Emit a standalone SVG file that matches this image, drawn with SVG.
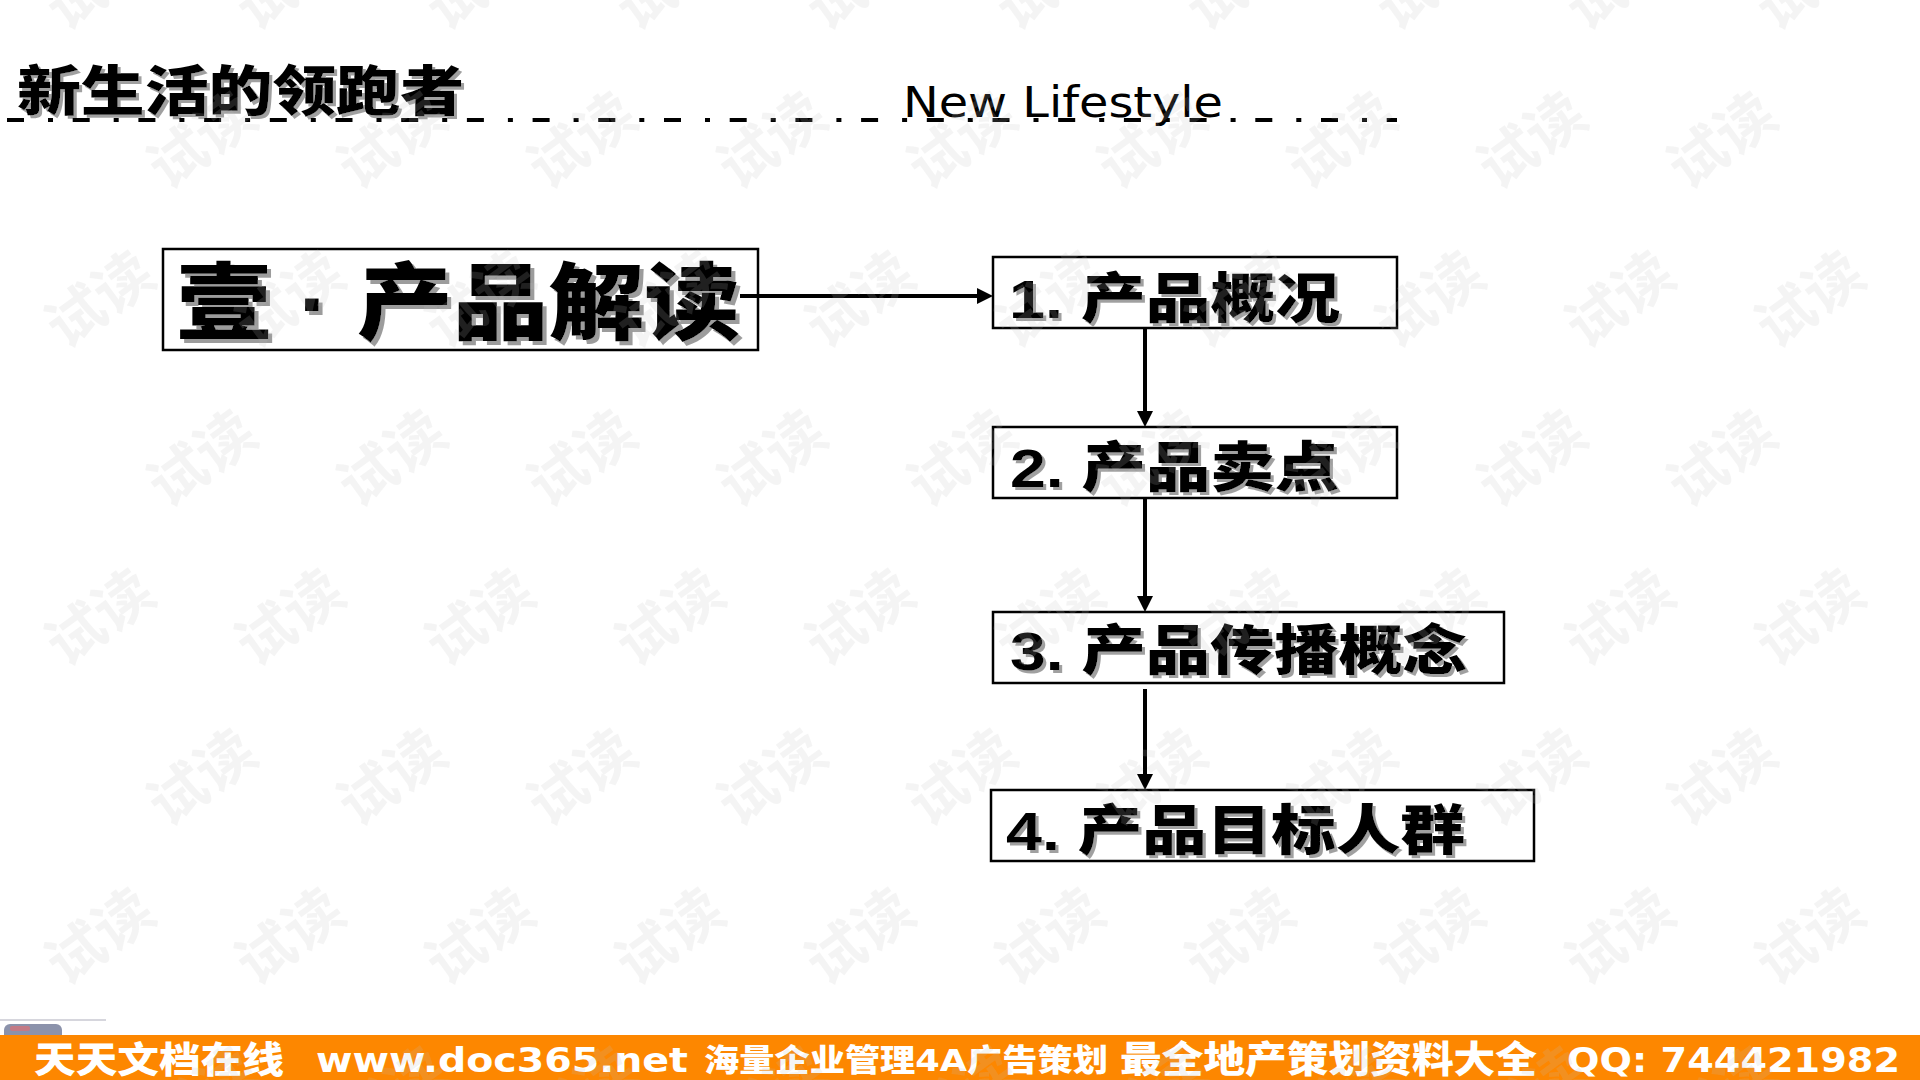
<svg xmlns="http://www.w3.org/2000/svg" xmlns:xlink="http://www.w3.org/1999/xlink" width="1920" height="1080" viewBox="0 0 1920 1080">
  <style>
    .cj { font-family: "Liberation Sans", "Noto Sans CJK SC", sans-serif; font-weight: 900; fill: #000; }
    .box { fill: #fff; stroke: #000; stroke-width: 2.5; }
    .conn { stroke: #000; stroke-width: 4; fill: none; }
    .foot { font-family: "DejaVu Sans", "Noto Sans CJK SC", sans-serif; font-weight: 900; fill: #fff; }
    .wm { font-family: "Noto Sans CJK SC", sans-serif; font-weight: 700; font-size: 58px; fill: #c0c0c0; fill-opacity: 0.17; }
  </style>
  <defs>
    <filter id="sh" x="-5%" y="-10%" width="115%" height="130%">
      <feDropShadow dx="4" dy="4" stdDeviation="0" flood-color="#9c9c9c" flood-opacity="1"/>
    </filter>
    <filter id="sh2" x="-5%" y="-10%" width="115%" height="130%">
      <feDropShadow dx="3" dy="3" stdDeviation="0" flood-color="#a0a0a0" flood-opacity="1"/>
    </filter>
    <marker id="ah" markerUnits="userSpaceOnUse" viewBox="0 0 16 16" markerWidth="16" markerHeight="16" refX="6" refY="8" orient="auto">
      <path d="M0,0 L16,8 L0,16 z" fill="#000"/>
    </marker>
    <text id="wm" class="wm" text-anchor="middle" transform="rotate(-36)" y="20">试读</text>
  </defs>

  <rect x="0" y="0" width="1920" height="1080" fill="#fff"/>

  <!-- header -->
  <g id="header">
    <text class="cj" x="17" y="111" font-size="54" textLength="447" lengthAdjust="spacingAndGlyphs" filter="url(#sh2)">新生活的领跑者</text>
    <line x1="7" y1="120" x2="1397" y2="120" stroke="#000" stroke-width="4" stroke-dasharray="17 24 5 19.7"/>
    <text x="903" y="117" font-family="DejaVu Sans, sans-serif" font-size="42" textLength="320" lengthAdjust="spacingAndGlyphs" fill="#000">New Lifestyle</text>
  </g>

  <!-- main node -->
  <g id="node-main">
    <rect class="box" x="163" y="249" width="595" height="101" stroke-width="2.5"/>
    <text class="cj" x="176" y="333" font-size="84" textLength="564" lengthAdjust="spacingAndGlyphs" filter="url(#sh)">壹 · 产品解读</text>
  </g>

  <g id="node-1">
    <rect class="box" x="993" y="257" width="404" height="71"/>
    <text class="cj" x="1009" y="318" font-size="54" textLength="331" lengthAdjust="spacingAndGlyphs" filter="url(#sh2)">1. 产品概况</text>
  </g>

  <g id="node-2">
    <rect class="box" x="993" y="427" width="404" height="71"/>
    <text class="cj" x="1010" y="487" font-size="54" textLength="329" lengthAdjust="spacingAndGlyphs" filter="url(#sh2)">2. 产品卖点</text>
  </g>

  <g id="node-3">
    <rect class="box" x="993" y="612" width="511" height="71"/>
    <text class="cj" x="1010" y="670" font-size="54" textLength="457" lengthAdjust="spacingAndGlyphs" filter="url(#sh2)">3. 产品传播概念</text>
  </g>

  <g id="node-4">
    <rect class="box" x="991" y="790" width="543" height="71"/>
    <text class="cj" x="1006" y="850" font-size="54" textLength="459" lengthAdjust="spacingAndGlyphs" filter="url(#sh2)">4. 产品目标人群</text>
  </g>

  <!-- connectors -->
  <g id="connectors">
    <line class="conn" x1="740" y1="296" x2="983" y2="296" marker-end="url(#ah)"/>
    <line class="conn" x1="1145" y1="328" x2="1145" y2="417" marker-end="url(#ah)"/>
    <line class="conn" x1="1145" y1="498" x2="1145" y2="602" marker-end="url(#ah)"/>
    <line class="conn" x1="1145" y1="689" x2="1145" y2="780" marker-end="url(#ah)"/>
  </g>

  <!-- footer -->
  <g id="footer">
    <line x1="0" y1="1020" x2="106" y2="1020" stroke="#c9c9d2" stroke-width="1.5"/>
    <rect x="4" y="1024" width="58" height="18" rx="6" fill="#8b92ab"/>
    <rect x="10" y="1026" width="20" height="5" rx="2" fill="#c47a86"/>
    <rect x="0" y="1035" width="1920" height="45" fill="#fd8700"/>
    <text class="foot" x="34" y="1073" font-size="36" textLength="250" lengthAdjust="spacingAndGlyphs">天天文档在线</text>
    <text class="foot" x="316" y="1072" font-size="34" textLength="372" lengthAdjust="spacingAndGlyphs">www.doc365.net</text>
    <text class="foot" x="704" y="1071" font-size="31" textLength="404" lengthAdjust="spacingAndGlyphs">海量企业管理4A广告策划</text>
    <text class="foot" x="1120" y="1073" font-size="37" textLength="417" lengthAdjust="spacingAndGlyphs">最全地产策划资料大全</text>
    <text class="foot" x="1567" y="1072" font-size="34" textLength="333" lengthAdjust="spacingAndGlyphs">QQ: 744421982</text>
  </g>

  <!-- watermark -->
  <g id="watermark">
    <use xlink:href="#wm" transform="translate(100,-18)"/><use xlink:href="#wm" transform="translate(290,-18)"/><use xlink:href="#wm" transform="translate(480,-18)"/><use xlink:href="#wm" transform="translate(670,-18)"/><use xlink:href="#wm" transform="translate(860,-18)"/><use xlink:href="#wm" transform="translate(1050,-18)"/><use xlink:href="#wm" transform="translate(1240,-18)"/><use xlink:href="#wm" transform="translate(1430,-18)"/><use xlink:href="#wm" transform="translate(1620,-18)"/><use xlink:href="#wm" transform="translate(1810,-18)"/>
    <use xlink:href="#wm" transform="translate(202,141)"/><use xlink:href="#wm" transform="translate(392,141)"/><use xlink:href="#wm" transform="translate(582,141)"/><use xlink:href="#wm" transform="translate(772,141)"/><use xlink:href="#wm" transform="translate(962,141)"/><use xlink:href="#wm" transform="translate(1152,141)"/><use xlink:href="#wm" transform="translate(1342,141)"/><use xlink:href="#wm" transform="translate(1532,141)"/><use xlink:href="#wm" transform="translate(1722,141)"/>
    <use xlink:href="#wm" transform="translate(100,300)"/><use xlink:href="#wm" transform="translate(290,300)"/><use xlink:href="#wm" transform="translate(480,300)"/><use xlink:href="#wm" transform="translate(670,300)"/><use xlink:href="#wm" transform="translate(860,300)"/><use xlink:href="#wm" transform="translate(1050,300)"/><use xlink:href="#wm" transform="translate(1240,300)"/><use xlink:href="#wm" transform="translate(1430,300)"/><use xlink:href="#wm" transform="translate(1620,300)"/><use xlink:href="#wm" transform="translate(1810,300)"/>
    <use xlink:href="#wm" transform="translate(202,459)"/><use xlink:href="#wm" transform="translate(392,459)"/><use xlink:href="#wm" transform="translate(582,459)"/><use xlink:href="#wm" transform="translate(772,459)"/><use xlink:href="#wm" transform="translate(962,459)"/><use xlink:href="#wm" transform="translate(1152,459)"/><use xlink:href="#wm" transform="translate(1342,459)"/><use xlink:href="#wm" transform="translate(1532,459)"/><use xlink:href="#wm" transform="translate(1722,459)"/>
    <use xlink:href="#wm" transform="translate(100,618)"/><use xlink:href="#wm" transform="translate(290,618)"/><use xlink:href="#wm" transform="translate(480,618)"/><use xlink:href="#wm" transform="translate(670,618)"/><use xlink:href="#wm" transform="translate(860,618)"/><use xlink:href="#wm" transform="translate(1050,618)"/><use xlink:href="#wm" transform="translate(1240,618)"/><use xlink:href="#wm" transform="translate(1430,618)"/><use xlink:href="#wm" transform="translate(1620,618)"/><use xlink:href="#wm" transform="translate(1810,618)"/>
    <use xlink:href="#wm" transform="translate(202,778)"/><use xlink:href="#wm" transform="translate(392,778)"/><use xlink:href="#wm" transform="translate(582,778)"/><use xlink:href="#wm" transform="translate(772,778)"/><use xlink:href="#wm" transform="translate(962,778)"/><use xlink:href="#wm" transform="translate(1152,778)"/><use xlink:href="#wm" transform="translate(1342,778)"/><use xlink:href="#wm" transform="translate(1532,778)"/><use xlink:href="#wm" transform="translate(1722,778)"/>
    <use xlink:href="#wm" transform="translate(100,937)"/><use xlink:href="#wm" transform="translate(290,937)"/><use xlink:href="#wm" transform="translate(480,937)"/><use xlink:href="#wm" transform="translate(670,937)"/><use xlink:href="#wm" transform="translate(860,937)"/><use xlink:href="#wm" transform="translate(1050,937)"/><use xlink:href="#wm" transform="translate(1240,937)"/><use xlink:href="#wm" transform="translate(1430,937)"/><use xlink:href="#wm" transform="translate(1620,937)"/><use xlink:href="#wm" transform="translate(1810,937)"/>
    <use xlink:href="#wm" transform="translate(202,1096)"/><use xlink:href="#wm" transform="translate(392,1096)"/><use xlink:href="#wm" transform="translate(582,1096)"/><use xlink:href="#wm" transform="translate(772,1096)"/><use xlink:href="#wm" transform="translate(962,1096)"/><use xlink:href="#wm" transform="translate(1152,1096)"/><use xlink:href="#wm" transform="translate(1342,1096)"/><use xlink:href="#wm" transform="translate(1532,1096)"/><use xlink:href="#wm" transform="translate(1722,1096)"/>
  </g>
</svg>
